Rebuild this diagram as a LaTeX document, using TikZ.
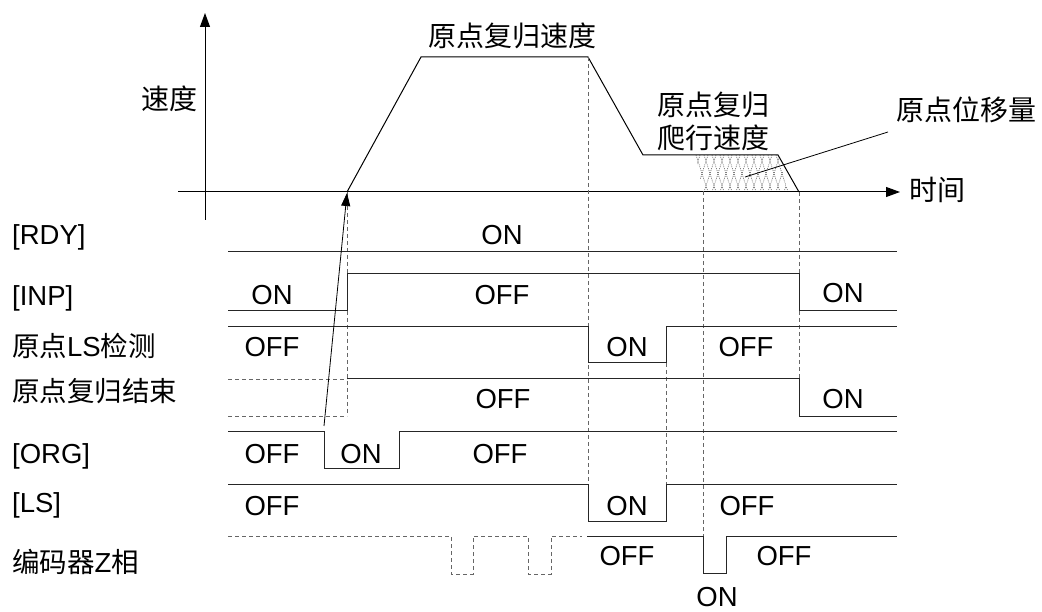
\documentclass[tikz,border=0pt]{standalone}
\usepackage{fontspec}
\setmainfont{Liberation Sans}
\newfontfamily\cjk{Noto Sans CJK SC}
\usetikzlibrary{arrows.meta}

\begin{document}
\begin{tikzpicture}[
    x=1pt, y=-1pt,
    font=\fontsize{27.5}{33}\selectfont,
    sig/.style={draw=black!85, line width=1pt},
    guide/.style={draw=black!60, line width=0.8pt, dash pattern=on 4pt off 3pt},
    axisline/.style={draw, line width=1pt, -{Triangle[length=14pt,width=10pt]}},
    hatch/.style={draw=black!75, line width=0.6pt, dash pattern=on 0.8pt off 1.2pt},
    tag/.style={anchor=base west, inner sep=0pt},
    state/.style={anchor=base, inner sep=0pt},
    title/.style={anchor=base, inner sep=0pt, font=\fontsize{28}{33}\selectfont\cjk}
]
\useasboundingbox (0,0) rectangle (1042,612);

% speed profile
\draw[axisline] (205,220) -- (205,13);
\draw[axisline] (178,192) -- (900,192);
\draw[line width=1pt] (347,192) -- (421,57) -- (588,57) -- (643,155) -- (778,155) -- (799,192);

\begin{scope}
\clip (695,155) -- (778,155) -- (788,191) -- (703,191) -- cycle;
\foreach \i in {0,...,16} {
    \draw[hatch] (680+8*\i,155) -- ++(12,37);
    \draw[hatch] (692+8*\i,155) -- ++(-12,37);
}
\end{scope}

\node[title] (vtitle) at (169,109.6) {速度};
\node[title] (ttitle) at (937,200.6) {时间};
\node[title] (homespd) at (512,46.5) {原点复归速度};
\node[title] (creep1) at (713,115.6) {原点复归};
\node[title] (creep2) at (713,148.6) {爬行速度};
\node[title] (shift) at (966,120.6) {原点位移量};
\coordinate (hatchpt) at (745,177);
\coordinate (leadend) at (888,132);
\draw[line width=0.8pt] (hatchpt) -- (leadend);

% dashed guides
\draw[guide] (347,192) -- (347,416);
\draw[guide] (588,57) -- (588,484);
\draw[guide] (666,363) -- (666,484);
\draw[guide] (703,191) -- (703,536);
\draw[guide] (799,192) -- (799,416);
\draw[guide] (228,379) -- (347,379);
\draw[guide] (228,416) -- (347,416);
\draw[guide] (228,536) -- (451,536) -- (451,574) -- (473,574) -- (473,536)
    -- (528,536) -- (528,574) -- (551,574) -- (551,536) -- (582,536);

% signals
\draw[sig] (228,252) -- (897,252);
\draw[sig] (228,311) -- (347,311) -- (347,274) -- (799,274) -- (799,311) -- (897,311);
\draw[sig] (228,327) -- (588,327) -- (588,363) -- (666,363) -- (666,327) -- (897,327);
\draw[sig] (347,379) -- (799,379) -- (799,416) -- (897,416);
\draw[sig] (228,431) -- (324,431) -- (324,468) -- (399,468) -- (399,431) -- (897,431);
\draw[sig] (228,484) -- (588,484) -- (588,521) -- (666,521) -- (666,484) -- (897,484);
\draw[sig] (587,536) -- (703,536) -- (703,573) -- (726,573) -- (726,536) -- (897,536);

\coordinate (orgfall) at (324,426);
\coordinate (start) at (347,193);
\draw[line width=0.8pt, -{Triangle[length=13pt,width=9pt]}] (orgfall) -- (start);

% signal names
\node[tag] (rdy) at (12,245) {[RDY]};
\node[tag] (inp) at (12,306) {[INP]};
\node[tag] (lsdet) at (12,357) {{\cjk 原点}LS{\cjk 检测}};
\node[tag] (homeend) at (12,402) {\cjk 原点复归结束};
\node[tag] (org) at (12,463) {[ORG]};
\node[tag] (ls) at (12,512) {[LS]};
\node[tag] (zph) at (12,572) {{\cjk 编码器}Z{\cjk 相}};

% states
\node[state] at (502,245) {ON};
\node[state] at (272,305) {ON};
\node[state] at (502,305) {OFF};
\node[state] at (843,303) {ON};
\node[state] at (272,357) {OFF};
\node[state] at (627,357) {ON};
\node[state] at (746,357) {OFF};
\node[state] at (503,408) {OFF};
\node[state] at (843,408) {ON};
\node[state] at (272,463) {OFF};
\node[state] at (361,463) {ON};
\node[state] at (500,463) {OFF};
\node[state] at (272,515) {OFF};
\node[state] at (627,515) {ON};
\node[state] at (747,515) {OFF};
\node[state] at (627,565) {OFF};
\node[state] at (784,565) {OFF};
\node[state] at (717,606) {ON};
\end{tikzpicture}
\end{document}
